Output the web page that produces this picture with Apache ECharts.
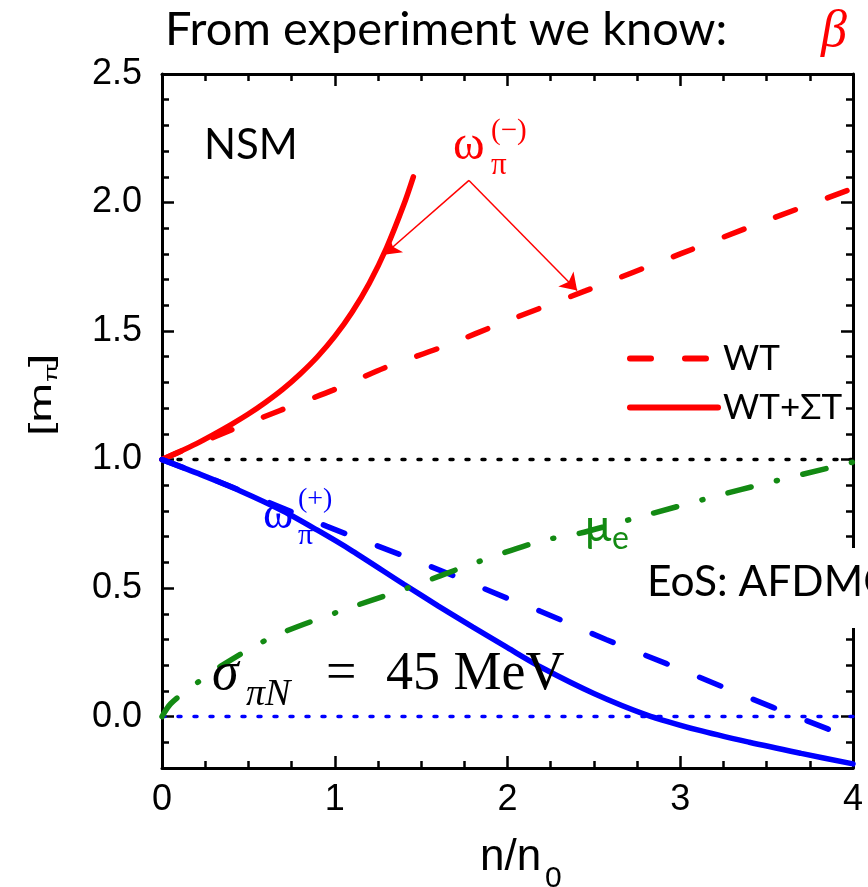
<!DOCTYPE html>
<html>
<head>
<meta charset="utf-8">
<script src="https://cdn.jsdelivr.net/npm/echarts@6/dist/echarts.min.js"></script>
<style>
html,body{margin:0;padding:0;background:#fff;}
#c{width:868px;height:887px;}
</style>
</head>
<body>
<div id="c"></div>
<script>
// ---- data ----
const xTicks = [0, 1, 2, 3, 4];
const yTickLabels = [0, 0.5, 1.0, 1.5, 2.0, 2.5];

// omega_pi^(-), WT (dashed red)
const wtMinusX = [0, 0.31, 0.68, 0.99, 1.30, 1.63, 2.0, 2.45, 3.0, 3.5, 4.0];
const wtMinusY = [1.0, 1.09, 1.19, 1.27, 1.36, 1.44, 1.54, 1.656, 1.80, 1.93, 2.055];

// omega_pi^(-), WT+ΣT (solid red)
const wtstMinusX = [0, 0.1, 0.2, 0.3, 0.4, 0.5, 0.6, 0.7, 0.8, 0.9, 1.0, 1.1, 1.2, 1.3, 1.4, 1.455];
const wtstMinusY = [1.0, 1.030, 1.062, 1.098, 1.136, 1.177, 1.223, 1.274, 1.333, 1.400, 1.479, 1.573, 1.686, 1.824, 1.992, 2.100];

// omega_pi^(+), WT (dashed blue)
const wtPlusX = [0, 0.29, 0.955, 1.38, 1.68, 2.0, 2.19, 2.57, 2.92, 3.23, 3.54, 3.85, 4.0];
const wtPlusY = [1.0, 0.925, 0.74, 0.63, 0.55, 0.46, 0.41, 0.30, 0.206, 0.12, 0.035, -0.047, -0.087];

// omega_pi^(+), WT+ΣT (solid blue)
const wtstPlusX = [0, 0.2, 0.45, 0.7, 0.9, 1.1, 1.4, 1.6, 1.8, 2.0, 2.2, 2.5, 2.8, 3.1, 3.4, 3.7, 4.0];
const wtstPlusY = [1.0, 0.948, 0.879, 0.80, 0.725, 0.645, 0.515, 0.43, 0.348, 0.268, 0.19, 0.09, 0.008, -0.052, -0.100, -0.143, -0.184];

// electron chemical potential (green dash-dot)
const muEX = [0, 0.05, 0.16, 0.35, 0.64, 1.03, 1.42, 1.8, 2.19, 2.4, 2.77, 3.35, 4.0];
const muEY = [0, 0.05, 0.11, 0.2, 0.31, 0.41, 0.5, 0.595, 0.683, 0.71, 0.778, 0.883, 0.99];

const refLineX = [0, 4];
const vacuumMassY = 1.0;
const zeroY = 0.0;

const arrowOrigin = [1.777, 2.086];
const arrowTips = [[1.285, 1.797], [2.403, 1.658]];

// ---- build ----
const zip = (xs, ys) => xs.map((x, i) => [x, ys[i]]);
const RED = '#ff0000', BLUE = '#0000ff', GREEN = '#138a13';
const NUMFONT = "'Liberation Sans',Arial,sans-serif";
const SANS = "Lato,'Open Sans',sans-serif";
const SERIF = "'Liberation Serif','DejaVu Serif',serif";

const tickStyle = {color: '#000', width: 2.5};
const MAJ = 12, MIN = 7;

function xMain(pos, labels) {
  return {
    type: 'value', position: pos, min: 0, max: 4, interval: 1,
    axisLine: {show: true, onZero: false, lineStyle: {color: '#000', width: 3}},
    axisTick: {show: true, inside: true, length: MAJ, lineStyle: tickStyle},
    minorTick: {show: true, splitNumber: 4, length: MIN, lineStyle: tickStyle},
    axisLabel: {show: labels, color: '#000', fontSize: 36, fontFamily: NUMFONT, margin: 14},
    splitLine: {show: false}, minorSplitLine: {show: false}
  };
}
function yMain(pos, labels) {
  return {
    type: 'value', position: pos, min: -0.2, max: 2.5,
    axisLine: {show: true, onZero: false, lineStyle: {color: '#000', width: 3}},
    axisTick: {show: true, inside: true, length: MAJ, lineStyle: tickStyle, customValues: yTickLabels},
    axisLabel: {show: labels, color: '#000', fontSize: 36, fontFamily: NUMFONT, margin: 20,
      customValues: yTickLabels, formatter: v => Number(v).toFixed(1)},
    splitLine: {show: false}
  };
}
function yMinor(pos) {
  return {
    type: 'value', position: pos, min: -0.2, max: 2.5, interval: 0.1,
    axisLine: {show: false, onZero: false},
    axisTick: {show: true, inside: true, length: MIN, lineStyle: tickStyle},
    axisLabel: {show: false}, splitLine: {show: false}
  };
}

const chart = echarts.init(document.getElementById('c'), null, {renderer: 'canvas'});
const option = {
  animation: false,
  backgroundColor: '#fff',
  grid: {left: 162, right: 15, top: 74, bottom: 119, containLabel: false, outerBoundsMode: 'none'},
  xAxis: [xMain('bottom', true), xMain('top', false)],
  yAxis: [yMain('left', true), yMinor('left'), yMain('right', false), yMinor('right')],
  legend: {
    data: ['WT', 'WT+ΣT'], orient: 'vertical', left: 622, top: 336,
    itemWidth: 88, itemHeight: 14, itemGap: 14,
    itemStyle: {opacity: 0},
    lineStyle: {width: 6, cap: 'round'},
    textStyle: {color: '#000', fontSize: 35, fontFamily: SANS}
  },
  series: [
    {name: 'WT', type: 'line', data: zip(wtMinusX, wtMinusY), symbol: 'none', smooth: 0.3, z: 5,
      lineStyle: {color: RED, width: 5.5, type: [21, 34], cap: 'round'}, itemStyle: {color: RED}},
    {name: 'WT+ΣT', type: 'line', data: zip(wtstMinusX, wtstMinusY), symbol: 'none', smooth: 0.3, z: 5,
      lineStyle: {color: RED, width: 5.5, cap: 'round'}, itemStyle: {color: RED}},
    {name: 'WT plus', type: 'line', data: zip(wtPlusX, wtPlusY), symbol: 'none', smooth: 0.3, z: 5,
      lineStyle: {color: BLUE, width: 5.5, type: [23, 35], cap: 'round'}},
    {name: 'WT+ΣT plus', type: 'line', data: zip(wtstPlusX, wtstPlusY), symbol: 'none', smooth: 0.3, z: 5,
      lineStyle: {color: BLUE, width: 5.5, cap: 'round'}},
    {name: 'mu_e', type: 'line', data: zip(muEX, muEY), symbol: 'none', smooth: 0.3, z: 5,
      lineStyle: {color: GREEN, width: 5.5, type: [24, 26, 1, 26], cap: 'round'}},
    {name: 'vacuum', type: 'line', data: refLineX.map(x => [x, vacuumMassY]), symbol: 'none', z: 3,
      lineStyle: {color: '#000', width: 3.5, type: [3, 13], cap: 'round'}},
    {name: 'zero', type: 'line', data: refLineX.map(x => [x, zeroY]), symbol: 'none', z: 3,
      lineStyle: {color: BLUE, width: 3.5, type: [3, 13], cap: 'round'}},
    {name: 'arrows', type: 'lines', coordinateSystem: 'cartesian2d', z: 6,
      symbol: ['none', 'arrow'], symbolSize: 16,
      lineStyle: {color: RED, width: 1.5, opacity: 1},
      data: arrowTips.map(t => ({coords: [arrowOrigin, t]}))}
  ],
  graphic: [
    {type: 'text', left: 165, top: 6, z: 100, style: {text: 'From experiment we know:', font: "47px " + SANS, fill: '#000'}},
    {type: 'text', left: 821, top: 6, z: 100, style: {text: 'β', font: "italic 52px " + SERIF, fill: RED}},
    {type: 'text', left: 204, top: 124, z: 100, style: {text: 'NSM', font: "42px " + SANS, fill: '#000'}},
    // omega pi (-)
    {type: 'text', x: 453, y: 122, z: 100, style: {text: 'ω', font: "48px " + SERIF, fill: RED}},
    {type: 'text', x: 491, y: 150, z: 100, style: {text: 'π', font: "31px " + SERIF, fill: RED}},
    {type: 'text', x: 491, y: 117, z: 100, style: {text: '(−)', font: "29px " + SERIF, fill: RED}},
    // omega pi (+)
    {type: 'text', x: 263, y: 493, z: 100, style: {text: 'ω', font: "46px " + SERIF, fill: BLUE}},
    {type: 'text', x: 298, y: 521, z: 100, style: {text: 'π', font: "30px " + SERIF, fill: BLUE}},
    {type: 'text', x: 298, y: 486, z: 100, style: {text: '(+)', font: "28px " + SERIF, fill: BLUE}},
    // mu_e
    {type: 'text', x: 585, y: 505, z: 100, style: {text: 'μ', font: "44px " + SANS, fill: GREEN}},
    {type: 'text', x: 612, y: 523, z: 100, style: {text: 'e', font: "32px " + SANS, fill: GREEN}},
    // sigma_piN = 45 MeV
    {type: 'text', x: 212, y: 648, z: 100, style: {text: 'σ', font: "italic 54px " + SERIF, fill: '#000'}},
    {type: 'text', x: 246, y: 676, z: 100, style: {text: 'πN', font: "italic 38px " + SERIF, fill: '#000'}},
    {type: 'text', x: 326, y: 648, z: 100, style: {text: '=', font: "54px " + SERIF, fill: '#000'}},
    {type: 'text', x: 386, y: 648, z: 100, style: {text: '45 MeV', font: "54px " + SERIF, fill: '#000'}},
    // EoS box
    {type: 'rect', shape: {x: 640, y: 548, width: 228, height: 80}, z: 90, style: {fill: '#fff'}},
    {type: 'text', x: 647, y: 561, z: 100, style: {text: 'EoS: AFDMC', font: "42.5px " + SANS, fill: '#000'}},
    // y axis name [m_pi]
    {type: 'group', x: 26, y: 436, rotation: Math.PI / 2, scaleX: 1.5, scaleY: 1, z: 100, children: [
      {type: 'text', x: 0, y: 0, style: {text: '[m', font: "32px " + NUMFONT, fill: '#000'}},
      {type: 'text', x: 36, y: 17, style: {text: 'π', font: "18px " + NUMFONT, fill: '#000'}},
      {type: 'text', x: 46, y: 0, style: {text: ']', font: "32px " + NUMFONT, fill: '#000'}}
    ]},
    // x axis name n/n_0
    {type: 'text', x: 480, y: 836, z: 100, style: {text: 'n/n', font: "44px " + NUMFONT, fill: '#000'}},
    {type: 'text', x: 545, y: 864, z: 100, style: {text: '0', font: "30px " + NUMFONT, fill: '#000'}}
  ]
};
chart.setOption(option);
</script>
</body>
</html>
